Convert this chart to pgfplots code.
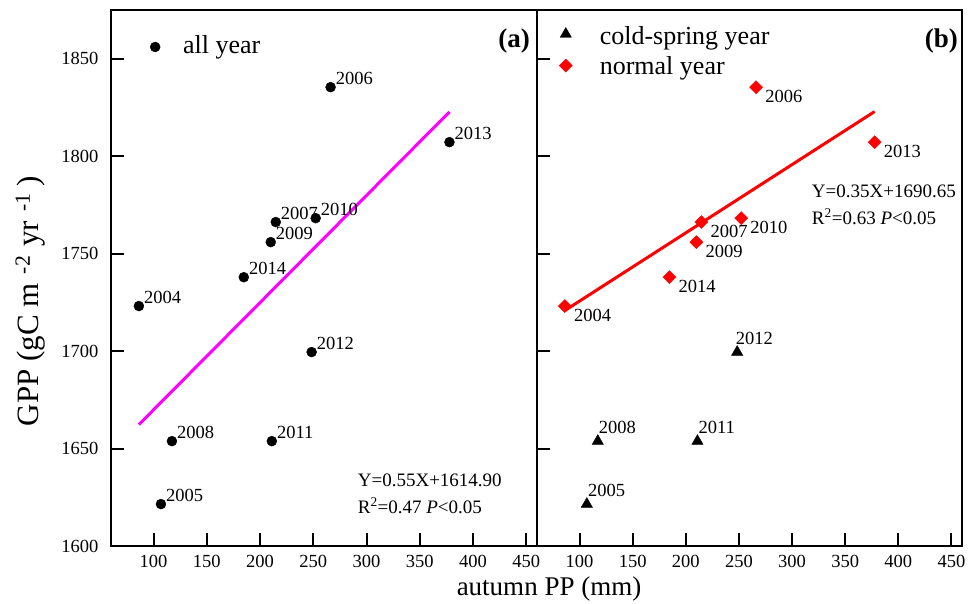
\documentclass[border=0pt]{standalone}
\usepackage{pgfplots}
\pgfplotsset{compat=1.18}
\usepackage{fontspec}
\setmainfont{Liberation Serif}

\definecolor{fitmagenta}{RGB}{255,0,255}
\definecolor{fitred}{RGB}{255,0,0}

\newcommand{\fs}[1]{\fontsize{#1}{#1}\selectfont}

% GPP vs autumn precipitation, 2004--2014
\pgfplotstableread{
x      y       year
86.2   1723.1  2004
106.9  1621.5  2005
266.2  1835.4  2006
214.7  1766.2  2007
117.2  1653.8  2008
210.0  1755.9  2009
252.2  1768.2  2010
211.0  1653.8  2011
248.4  1699.5  2012
377.8  1807.2  2013
184.7  1737.9  2014
}\allyears

\pgfplotstableread{
x      y       year
106.9  1621.5  2005
117.2  1653.8  2008
211.0  1653.8  2011
248.4  1699.5  2012
}\coldspring

\pgfplotstableread{
x      y       year
86.2   1723.1  2004
266.2  1835.4  2006
214.7  1766.2  2007
210.0  1755.9  2009
252.2  1768.2  2010
377.8  1807.2  2013
184.7  1737.9  2014
}\normalyears

\pgfplotsset{
  panel/.style={
    scale only axis,
    width=426pt, height=536pt,
    xmin=60, xmax=460, ymin=1600, ymax=1875,
    xtick={100,150,...,450},
    ytick={1600,1650,...,1850},
    tick align=inside,
    xtick pos=bottom, ytick pos=left,
    major tick length=13pt,
    every tick/.style={black, line width=2pt},
    axis line style={line width=2.4pt},
    tick label style={font=\fs{18.5pt}},
    yticklabel style={xshift=-9pt},
    xticklabel style={yshift=-6pt},
    /pgf/number format/assume math mode=true,
    /pgf/number format/1000 sep={},
    clip=false,
    legend cell align=left,
  },
}
\tikzset{
  lblA/.style={anchor=base west, font=\fs{18.5pt}, inner sep=0pt, xshift=5pt, yshift=3pt},
  lblUp/.style={anchor=base west, font=\fs{18.5pt}, inner sep=0pt, xshift=1pt, yshift=8pt},
  lblDown/.style={anchor=north west, font=\fs{18.5pt}, inner sep=0pt, xshift=9pt, yshift=-3pt},
  eqn/.style={anchor=base west, font=\fs{19pt}, inner sep=0pt},
}

\begin{document}
\begin{tikzpicture}
\path[use as bounding box] (0pt,0pt) rectangle (970pt,604pt);

% (a) all years
\begin{axis}[panel, at={(111pt,58pt)}, anchor=south west,
  legend style={at={(0.0915,0.9533)}, anchor=north west, draw=none, fill=none,
    font=\fs{26pt}, inner sep=0pt, nodes={inner sep=0pt}},
]
\addplot[only marks, mark=*, mark size=5pt, black,
  legend image code/.code={\draw plot coordinates {(0pt,-2pt)};\path[draw=none,fill=none] (-5pt,0pt) -- (28pt,0pt);}]
  table[x=x,y=y] {\allyears};
\addlegendentry{all year}
\addplot[fitmagenta, line width=3pt, forget plot] coordinates {(86.2,1662.3) (377.8,1822.7)};

\node[lblA] at (axis cs:86.2,1723.1) {2004};
\node[lblA] at (axis cs:106.9,1621.5) {2005};
\node[lblA] at (axis cs:266.2,1835.4) {2006};
\node[lblA] at (axis cs:214.7,1766.2) {2007};
\node[lblA] at (axis cs:117.2,1653.8) {2008};
\node[lblA] at (axis cs:210.0,1755.9) {2009};
\node[lblA] at (axis cs:252.2,1768.2) {2010};
\node[lblA] at (axis cs:211.0,1653.8) {2011};
\node[lblA] at (axis cs:248.4,1699.5) {2012};
\node[lblA] at (axis cs:377.8,1807.2) {2013};
\node[lblA] at (axis cs:184.7,1737.9) {2014};

\node[eqn] at (axis cs:291.6,1630.3) {Y=0.55X+1614.90};
\node[eqn] at (axis cs:291.6,1616.9) {R\textsuperscript{2}=0.47 \textit{P}<0.05};

\node[anchor=north east, font=\bfseries\fs{27pt}, inner sep=0pt] at (rel axis cs:1,1) [xshift=-7pt, yshift=-19pt] {(a)};
\end{axis}

% (b) cold-spring and normal years
\begin{axis}[panel, at={(537pt,58pt)}, anchor=south west, width=425pt,
  yticklabels={},
  legend style={at={(0.052,0.970)}, anchor=north west, draw=none, fill=none,
    font=\fs{26pt}, inner sep=0pt, nodes={inner sep=0pt}, row sep=11pt},
]
\addplot[only marks, mark=triangle*, mark size=6.5pt, black,
  legend image code/.code={\draw plot coordinates {(0pt,2pt)};\path[draw=none,fill=none] (-6pt,0pt) -- (34pt,0pt);}]
  table[x=x,y=y] {\coldspring};
\addlegendentry{cold-spring year}
\addplot[only marks, mark=square*, mark size=4.6pt, fitred, mark options={rotate=45},
  legend image code/.code={\draw plot coordinates {(0pt,1pt)};\path[draw=none,fill=none] (-6pt,0pt) -- (34pt,0pt);}]
  table[x=x,y=y] {\normalyears};
\addlegendentry{normal year}
\addplot[fitred, line width=3pt, forget plot] coordinates {(86.2,1720.8) (377.8,1822.9)};

\node[lblUp] at (axis cs:106.9,1621.5) {2005};
\node[lblUp] at (axis cs:117.2,1653.8) {2008};
\node[lblUp] at (axis cs:211.0,1653.8) {2011};
\node[lblUp] at (axis cs:246.0,1699.5) {2012};

\node[lblDown] at (axis cs:86.2,1723.1) {2004};
\node[lblDown] at (axis cs:266.2,1835.4) {2006};
\node[lblDown] at (axis cs:214.7,1766.2) {2007};
\node[lblDown] at (axis cs:210.0,1755.9) {2009};
\node[lblDown] at (axis cs:252.2,1768.2) {2010};
\node[lblDown] at (axis cs:377.8,1807.2) {2013};
\node[lblDown] at (axis cs:184.7,1737.9) {2014};

\node[eqn] at (axis cs:318.6,1779.0) {Y=0.35X+1690.65};
\node[eqn] at (axis cs:318.6,1765.1) {R\textsuperscript{2}=0.63 \textit{P}<0.05};

\node[anchor=north east, font=\bfseries\fs{27pt}, inner sep=0pt] at (rel axis cs:1,1) [xshift=-4pt, yshift=-19pt] {(b)};
\end{axis}

% shared axis titles
\node[rotate=90, anchor=base, font=\fs{31pt}, inner sep=0pt] at (39pt,303pt)
  {GPP (gC m\hspace*{9pt}\textsuperscript{-2}\hspace*{9pt}yr\hspace*{9pt}\textsuperscript{-1}\hspace*{7pt})};
\node[anchor=base, font=\fs{27pt}, inner sep=0pt] at (549pt,8pt) {autumn PP (mm)};
\end{tikzpicture}
\end{document}
